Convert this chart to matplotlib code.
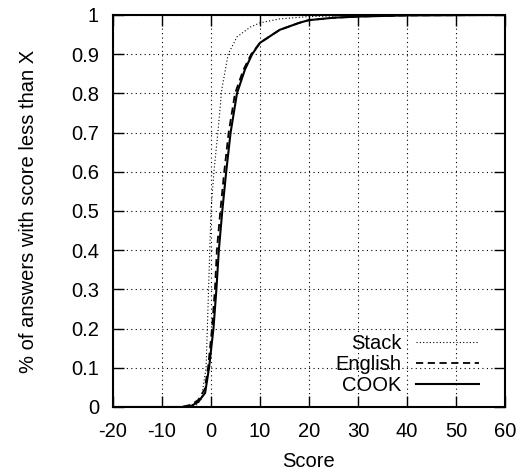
"""CDF of answer scores: Stack vs English vs COOK."""
import numpy as np
from matplotlib import pyplot as plt

plt.rcParams["font.family"] = ["Liberation Sans", "DejaVu Sans"]
plt.rcParams["font.size"] = 14.5

# values (score, fraction of answers below)
stack_x = [-20, -6, -3, -2, -1, -0.5, 0, 0.6, 1.4, 2.2, 3.5, 5.3, 8, 10, 14, 20, 30, 60]
stack_y = [0, 0, 0.005, 0.02, 0.1, 0.3, 0.5, 0.6, 0.7, 0.81, 0.9, 0.944, 0.969, 0.98, 0.99, 0.996, 0.999, 1]

english_x = [-20, -6, -4, -2.6, -1.3, -0.6, 0.2, 0.8, 1.2, 1.9, 2.7, 3.6, 4.9, 6.6, 8.2, 10, 14, 18, 20, 25, 30, 40, 60]
english_y = [0, 0, 0.006, 0.018, 0.045, 0.1, 0.2, 0.3, 0.4, 0.5, 0.6, 0.7, 0.8, 0.86, 0.9, 0.929, 0.962, 0.98, 0.987, 0.993, 0.996, 0.999, 1]

cook_x = [-20, -6, -4, -2.6, -1.2, -0.4, 0.5, 1.1, 1.6, 2.3, 3.1, 4.0, 5.3, 6.9, 8.4, 10, 14, 18, 20, 25, 30, 40, 60]
cook_y = [0, 0, 0.003, 0.013, 0.036, 0.1, 0.2, 0.3, 0.4, 0.5, 0.6, 0.7, 0.8, 0.86, 0.9, 0.929, 0.962, 0.98, 0.987, 0.993, 0.996, 0.999, 1]

x_ticks = np.arange(-20, 61, 10)
y_ticks = np.round(np.arange(0, 1.01, 0.1), 1)

fig = plt.figure(figsize=(5.22, 4.74), dpi=100)
ax = fig.add_axes([113 / 522, 1 - 407 / 474, 392 / 522, 392 / 474])

ax.plot(stack_x, stack_y, color="black", ls=(0, (1, 2)), lw=0.8, label="Stack")
ax.plot(english_x, english_y, color="black", ls=(0, (4, 2.5)), lw=1.3, label="English")
ax.plot(cook_x, cook_y, color="black", ls="-", lw=1.5, label="COOK")

ax.set_xlim(-20, 60)
ax.set_ylim(0, 1)
ax.set_xticks(x_ticks)
ax.set_yticks(y_ticks)
ax.set_xticklabels([str(v) for v in x_ticks])
ax.set_yticklabels(["0"] + [f"{v:.1f}" for v in y_ticks[1:-1]] + ["1"])
ax.tick_params(direction="in", length=8, width=1, top=True, right=True)
ax.tick_params(axis="y", pad=10)
ax.tick_params(axis="x", pad=11)
ax.grid(True, color="black", ls=(0, (1, 3)), lw=0.8)
for s in ax.spines.values():
    s.set_linewidth(1.5)

ax.set_xlabel("Score", labelpad=8)
ax.set_ylabel("% of answers with score less than X", labelpad=24)

leg = ax.legend(loc="lower right", frameon=False, markerfirst=False,
                handlelength=3.1, handletextpad=0.75, labelspacing=0.1,
                borderaxespad=0.2, bbox_to_anchor=(0.964, 0.0))
for t in leg.get_texts():
    t.set_ha("right")

fig.savefig("out.png")
